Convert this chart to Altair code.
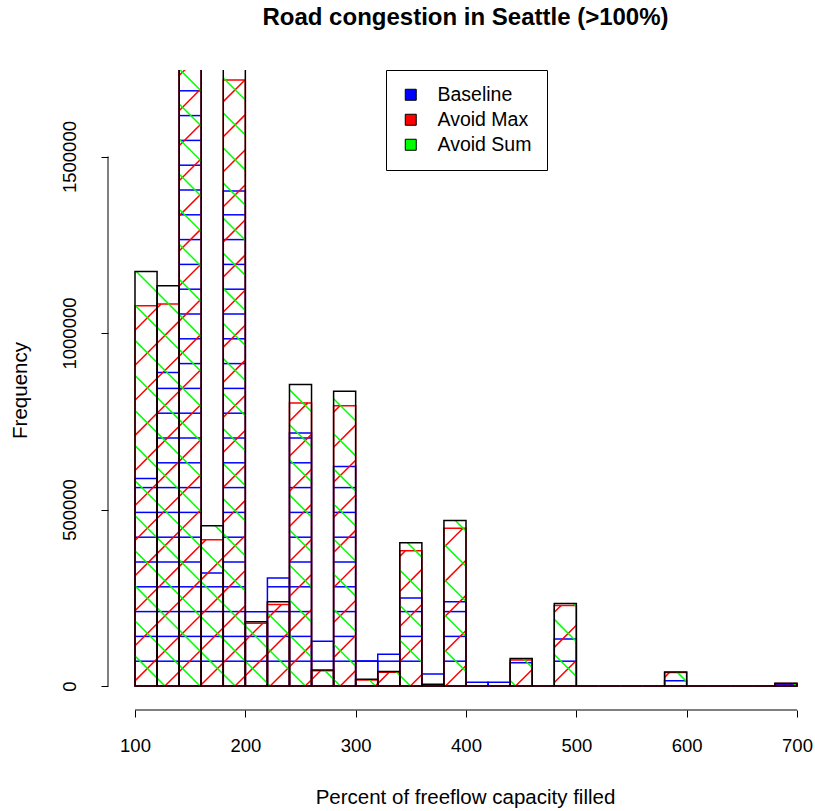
import math
import altair as alt
import pandas as pd

# ---------------- data ----------------
bin_starts = list(range(100, 700, 20))
bin_width = 20

baseline = [588000, 888000, 1850000, 320000, 1402000, 210000, 306000, 717000,
            127000, 622000, 71000, 90000, 249000, 34000, 239000, 10400,
            10400, 66000, 0, 133000, 0, 0, 0, 0,
            15000, 0, 0, 0, 0, 5000]
avoid_max = [1077000, 1082000, 1900000, 414000, 1717000, 178000, 231000, 802000,
             43000, 794000, 17000, 39000, 383000, 3000, 447000, 0,
             0, 74000, 0, 228000, 0, 0, 0, 0,
             38000, 0, 0, 0, 0, 7000]
avoid_sum = [1174000, 1134000, 2000000, 454000, 1900000, 182000, 239000, 854000,
             45000, 835000, 19000, 41000, 406000, 5000, 469000, 0,
             0, 78000, 0, 234000, 0, 0, 0, 0,
             40000, 0, 0, 0, 0, 7600]

series_names = ["Baseline", "Avoid Max", "Avoid Sum"]
series_values = [baseline, avoid_max, avoid_sum]
fill_colors = ["#0000ff", "#ff0000", "#00ff00"]
border_colors = ["#0000ff", "#ff0000", "#000000"]
hatch_angles = [0, 45, 135]

x_ticks = [100, 200, 300, 400, 500, 600, 700]
y_ticks = [0, 500000, 1000000, 1500000]

title_text = "Road congestion in Seattle (>100%)"
x_title = "Percent of freeflow capacity filled"
y_title = "Frequency"

# ---------------- layout ----------------
FONT = "Liberation Sans"
W, H = 707, 640
X_DOM = [75.53, 716.3]
Y_DOM = [-67990, 1745100]
sx = W / (X_DOM[1] - X_DOM[0])      # px per x unit
sy = H / (Y_DOM[1] - Y_DOM[0])      # px per y unit
SPACING = 24.8                      # hatch spacing in px

xs = alt.Scale(domain=X_DOM, nice=False, zero=False)
ys = alt.Scale(domain=Y_DOM, nice=False, zero=False)


def hatch_segments(values, angle):
    segs = []
    for x0, h in zip(bin_starts, values):
        if h <= 0:
            continue
        x1 = x0 + bin_width
        if angle == 0:
            step = SPACING / sy
            k = 1
            while k * step <= h:
                segs.append((x0, k * step, x1, k * step))
                k += 1
        else:
            step = SPACING * math.sqrt(2) / sx
            dydx = sx / sy
            run = h / dydx
            kmin = math.floor((x0 - run) / step) - 1
            kmax = math.ceil((x1 + run) / step) + 1
            for k in range(kmin, kmax + 1):
                c = k * step
                if angle == 45:
                    xa, xb = max(x0, c), min(x1, c + run)
                    if xb > xa:
                        segs.append((xa, (xa - c) * dydx, xb, (xb - c) * dydx))
                else:
                    xa, xb = max(x0, c - run), min(x1, c)
                    if xb > xa:
                        segs.append((xa, (c - xa) * dydx, xb, (c - xb) * dydx))
    return pd.DataFrame(segs, columns=["x", "y", "x2", "y2"])


# axes (R style: axis line only spans the tick range)
xaxis_df = pd.DataFrame({"a": [x_ticks[0]], "b": [x_ticks[-1]]})
yaxis_df = pd.DataFrame({"a": [y_ticks[0]], "b": [y_ticks[-1]]})

x_axis_layer = alt.Chart(xaxis_df).mark_rule(color="black", strokeWidth=1).encode(
    x=alt.X("a:Q", scale=xs, axis=alt.Axis(
        values=x_ticks, format="d", labelPadding=19, labelBaseline="top",
        title=x_title, titleX=357, titleY=87, titleAlign="center",
        titleBaseline="middle")),
    x2="b:Q",
    y=alt.value(H))

y_axis_layer = alt.Chart(yaxis_df).mark_rule(color="black", strokeWidth=1).encode(
    y=alt.Y("a:Q", scale=ys, axis=alt.Axis(
        values=y_ticks, format="d", labelAngle=270, labelAlign="center",
        labelBaseline="bottom", labelPadding=22,
        title=y_title, titleX=-88, titleY=H / 2, titleAngle=270,
        titleAlign="center", titleBaseline="middle")),
    y2="b:Q",
    x=alt.value(0))

layers = [x_axis_layer, y_axis_layer]
for name, vals, fc, bc, ang in zip(series_names, series_values, fill_colors,
                                   border_colors, hatch_angles):
    hd = hatch_segments(vals, ang)
    layers.append(
        alt.Chart(hd).mark_rule(color=fc, strokeWidth=1.5, clip=True).encode(
            x=alt.X("x:Q", scale=xs),
            y=alt.Y("y:Q", scale=ys),
            x2="x2:Q", y2="y2:Q")
    )
    bd = pd.DataFrame({"b0": bin_starts,
                       "b1": [b + bin_width for b in bin_starts],
                       "zero": [0] * len(bin_starts),
                       "v": vals})
    layers.append(
        alt.Chart(bd).mark_rect(fill="transparent", stroke=bc, strokeWidth=1.5,
                                clip=True).encode(
            x=alt.X("b0:Q", scale=xs), x2="b1:Q",
            y=alt.Y("zero:Q", scale=ys), y2="v:Q")
    )

legend_df = pd.DataFrame({"series": series_names,
                          "x": [bin_starts[0]] * 3, "y": [0] * 3})
legend_layer = alt.Chart(legend_df).mark_square(opacity=0, size=10).encode(
    x=alt.X("x:Q", scale=xs),
    y=alt.Y("y:Q", scale=ys),
    fill=alt.Fill("series:N",
                  scale=alt.Scale(domain=series_names, range=fill_colors),
                  sort=series_names,
                  legend=alt.Legend(
                      title=None, orient="none", legendX=278, legendY=0,
                      direction="vertical",
                      strokeColor="black", fillColor="white", padding=15,
                      cornerRadius=0,
                      symbolType="square", symbolSize=121, symbolOpacity=1,
                      symbolStrokeColor="black", symbolStrokeWidth=1,
                      labelFont=FONT, labelFontSize=19.5, labelColor="black",
                      labelOffset=17, rowPadding=4)))
layers.append(legend_layer)

chart = alt.layer(*layers).properties(
    width=W, height=H,
    background="white",
    title=alt.TitleParams(title_text, font=FONT, fontSize=24, fontWeight="bold",
                          color="black", anchor="middle", dx=4, offset=21,
                          baseline="alphabetic"),
    autosize=alt.AutoSizeParams(type="none"),
    padding={"left": 108, "top": 70, "right": 0, "bottom": 101},
).configure_view(strokeWidth=0, strokeOpacity=0).configure_axis(
    grid=False, domain=False, tickSize=7, tickColor="black", tickWidth=1,
    labelFont=FONT, labelFontSize=18.5, labelColor="black",
    titleFont=FONT, titleFontSize=20.5, titleFontWeight="normal", titleColor="black",
)

chart.save("out.html", embed_options={"renderer": "svg", "actions": False})
